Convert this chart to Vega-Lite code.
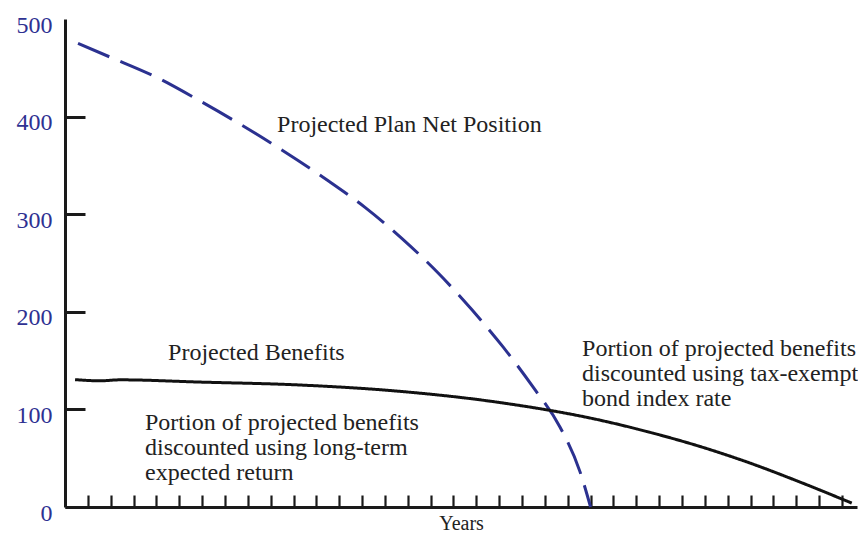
{
  "$schema": "https://vega.github.io/schema/vega-lite/v6.json",
  "width": 792,
  "height": 488,
  "autosize": {"type": "none"},
  "padding": {"left": 65, "top": 19, "right": 1, "bottom": 29},
  "background": "white",
  "config": {
    "view": {"stroke": null},
    "font": "Liberation Serif",
    "axis": {"grid": false, "domainColor": "#1a1a1a", "tickColor": "#1a1a1a"}
  },
  "datasets": {
    "curves": [
      {"series": "Projected Plan Net Position", "year": 0.57, "value": 475},
      {"series": "Projected Plan Net Position", "year": 1.97, "value": 461},
      {"series": "Projected Plan Net Position", "year": 4.03, "value": 440},
      {"series": "Projected Plan Net Position", "year": 5.91, "value": 416},
      {"series": "Projected Plan Net Position", "year": 7.75, "value": 391},
      {"series": "Projected Plan Net Position", "year": 9.54, "value": 365},
      {"series": "Projected Plan Net Position", "year": 11.47, "value": 335},
      {"series": "Projected Plan Net Position", "year": 13.13, "value": 307},
      {"series": "Projected Plan Net Position", "year": 14.75, "value": 275},
      {"series": "Projected Plan Net Position", "year": 16.32, "value": 240},
      {"series": "Projected Plan Net Position", "year": 17.81, "value": 202},
      {"series": "Projected Plan Net Position", "year": 19.17, "value": 164},
      {"series": "Projected Plan Net Position", "year": 20.48, "value": 123},
      {"series": "Projected Plan Net Position", "year": 21.66, "value": 82},
      {"series": "Projected Plan Net Position", "year": 22.54, "value": 36},
      {"series": "Projected Plan Net Position", "year": 23.0, "value": 0},
      {"series": "Projected Benefits", "year": 0.44, "value": 130.5},
      {"series": "Projected Benefits", "year": 1.53, "value": 129.3},
      {"series": "Projected Benefits", "year": 2.41, "value": 130.3},
      {"series": "Projected Benefits", "year": 5.91, "value": 128},
      {"series": "Projected Benefits", "year": 10.28, "value": 125},
      {"series": "Projected Benefits", "year": 14.66, "value": 118.5},
      {"series": "Projected Benefits", "year": 19.04, "value": 107},
      {"series": "Projected Benefits", "year": 23.41, "value": 89},
      {"series": "Projected Benefits", "year": 25.6, "value": 76.5},
      {"series": "Projected Benefits", "year": 27.79, "value": 62},
      {"series": "Projected Benefits", "year": 29.98, "value": 45},
      {"series": "Projected Benefits", "year": 32.17, "value": 25.5},
      {"series": "Projected Benefits", "year": 34.43, "value": 4}
    ],
    "labels": [
      {"year": 9.28, "value": 384.7, "text": "Projected Plan Net Position"},
      {"year": 4.51, "value": 151, "text": "Projected Benefits"},
      {"year": 3.5, "value": 79.4, "text": "Portion of projected benefits\ndiscounted using long-term\nexpected return"},
      {"year": 22.63, "value": 155.2, "text": "Portion of projected benefits\ndiscounted using tax-exempt\nbond index rate"}
    ]
  },
  "layer": [
    {
      "data": {"name": "curves"},
      "mark": {"type": "line", "interpolate": "monotone", "strokeWidth": 3, "clip": false},
      "encoding": {
        "x": {
          "field": "year", "type": "quantitative",
          "scale": {"domain": [0, 34.66], "nice": false, "zero": false},
          "axis": {
            "title": "Years",
            "titleFont": "Liberation Serif",
            "titleFontSize": 20,
            "titleFontWeight": "normal",
            "titleColor": "#222222",
            "titlePadding": 5,
            "labels": false,
            "tickCount": 40,
            "values": [1,2,3,4,5,6,7,8,9,10,11,12,13,14,15,16,17,18,19,20,21,22,23,24,25,26,27,28,29,30,31,32,33,34],
            "tickSize": -12,
            "tickWidth": 2.2,
            "domainWidth": 3
          }
        },
        "y": {
          "field": "value", "type": "quantitative",
          "scale": {"domain": [0, 500], "nice": false},
          "axis": {
            "title": null,
            "values": [0, 100, 200, 300, 400, 500],
            "tickSize": -20,
            "tickWidth": 3,
            "tickOpacity": {"condition": {"test": "datum.value == 500", "value": 0}, "value": 1},
            "domainWidth": 3,
            "labelFont": "Liberation Serif",
            "labelFontSize": 24,
            "labelColor": "#2e3192",
            "labelPadding": 33,
            "labelOffset": 6,
            "labelBaseline": "middle"
          }
        },
        "color": {
          "field": "series", "type": "nominal",
          "scale": {"domain": ["Projected Benefits", "Projected Plan Net Position"], "range": ["#111111", "#2b3190"]},
          "legend": null
        },
        "strokeDash": {
          "field": "series", "type": "nominal",
          "scale": {"domain": ["Projected Benefits", "Projected Plan Net Position"], "range": [[1, 0], [34, 12]]},
          "legend": null
        }
      }
    },
    {
      "data": {"name": "labels"},
      "mark": {"type": "text", "align": "left", "baseline": "alphabetic", "font": "Liberation Serif", "fontSize": 24, "color": "#222222", "lineBreak": "\n", "lineHeight": 25},
      "encoding": {
        "x": {"field": "year", "type": "quantitative"},
        "y": {"field": "value", "type": "quantitative"},
        "text": {"field": "text"}
      }
    }
  ]
}
